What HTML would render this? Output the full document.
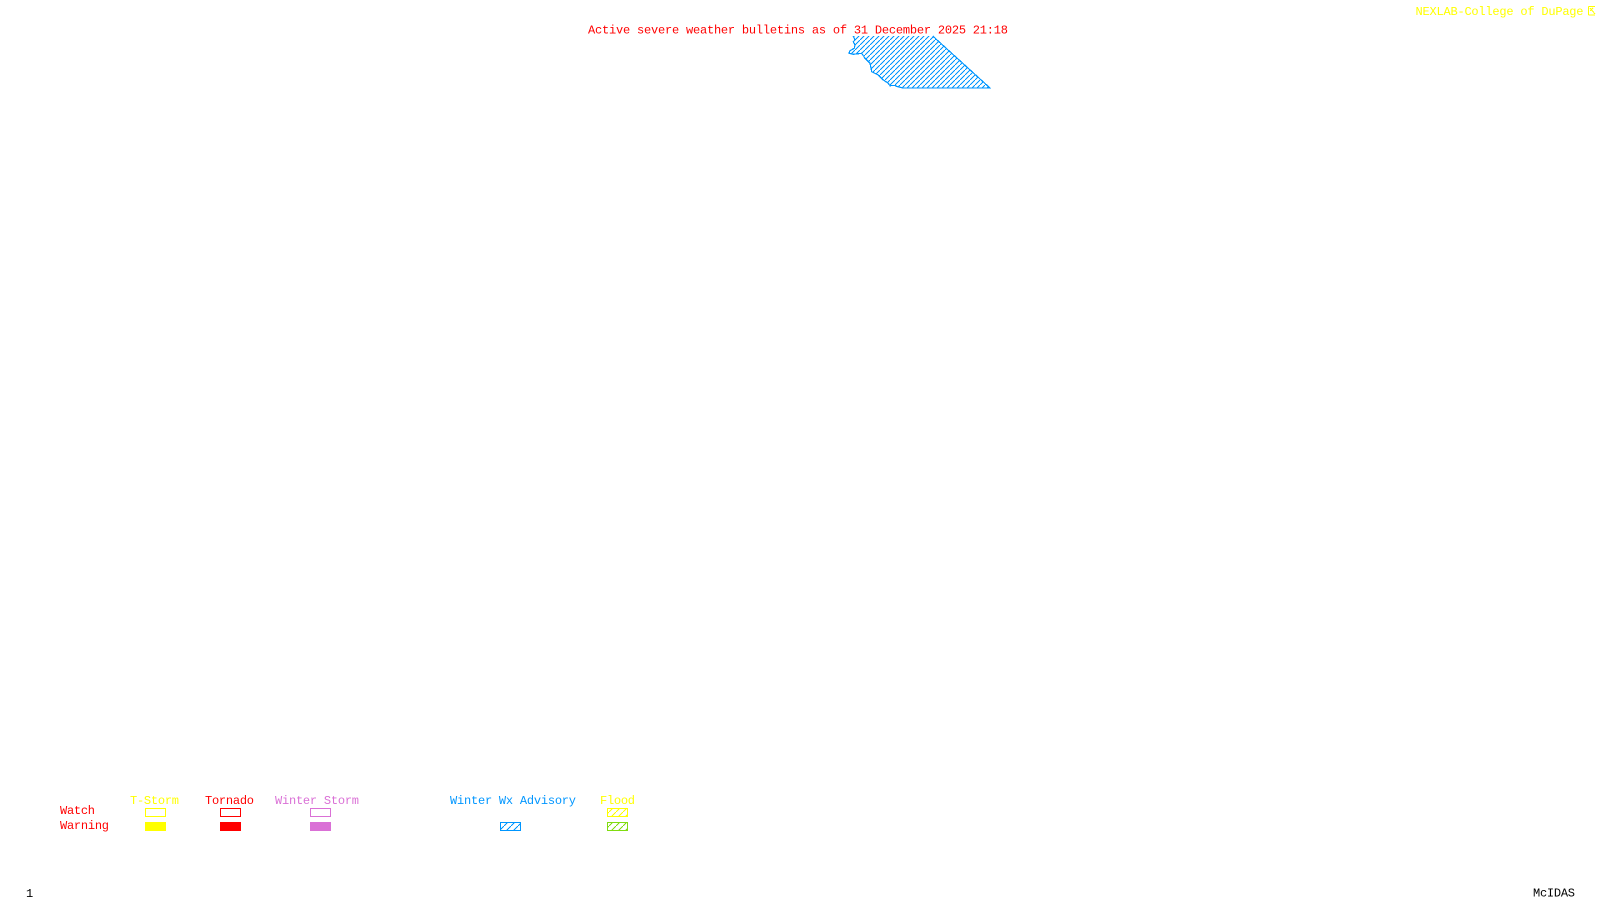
<!DOCTYPE html>
<html>
<head>
<meta charset="utf-8">
<style>
html,body{margin:0;padding:0;background:#fff;width:1600px;height:900px;overflow:hidden}
svg{display:block}
text{font-family:"Liberation Mono",monospace;font-size:12px}
</style>
</head>
<body>
<svg width="1600" height="900" viewBox="0 0 1600 900" xmlns="http://www.w3.org/2000/svg">
<defs>
<pattern id="hb" width="5" height="5" patternUnits="userSpaceOnUse"><path d="M0 5L5 0" stroke="#0096ff" stroke-width="1" shape-rendering="crispEdges"/></pattern>
<pattern id="hbl" width="7" height="7" patternUnits="userSpaceOnUse"><path d="M0 7L7 0" stroke="#0096ff" stroke-width="1" shape-rendering="crispEdges"/></pattern>
<pattern id="hy" width="7" height="7" patternUnits="userSpaceOnUse"><path d="M0 7L7 0" stroke="#ffff00" stroke-width="1" shape-rendering="crispEdges"/></pattern>
<pattern id="hg" width="7" height="7" patternUnits="userSpaceOnUse"><path d="M0 7L7 0" stroke="#80dc10" stroke-width="1" shape-rendering="crispEdges"/></pattern>
</defs>

<text x="588" y="33.5" fill="#ff0000" textLength="420" lengthAdjust="spacing">Active severe weather bulletins as of 31 December 2025 21:18</text>
<text x="1415.5" y="15" fill="#ffff00" textLength="168" lengthAdjust="spacing">NEXLAB-College of DuPage</text>
<g fill="none" stroke="#ffff00" stroke-width="1" shape-rendering="crispEdges"><path d="M1588.5 6.5H1595M1588.5 6.5V15M1588.5 15H1595M1590 8L1595 14M1590 11L1593 8"/></g>

<polygon points="853.3,36 932.7,36 990,88 903,88 897,86.5 895,85.5 890,85.7 888.3,83.3 883.3,80 878.3,75 871.7,71.7 870,63.3 865,58.3 861.7,53.3 853.3,54.3 849,53.3 850,50.7 854.3,48.3 855,45 853.3,41.7 855,40" fill="url(#hb)"/>
<path d="M932.7,36 L990,88 L903,88 L897,86.5 L895,85.5 L890,85.7 L888.3,83.3 L883.3,80 L878.3,75 L871.7,71.7 L870,63.3 L865,58.3 L861.7,53.3 L853.3,54.3 L849,53.3 L850,50.7 L854.3,48.3 L855,45 L853.3,41.7 L855,40 L853.3,36" fill="none" stroke="#0096ff" stroke-width="1.2" shape-rendering="crispEdges"/>

<text x="130" y="804" fill="#ffff00" textLength="49" lengthAdjust="spacing">T-Storm</text>
<text x="205" y="804" fill="#ff0000" textLength="49" lengthAdjust="spacing">Tornado</text>
<text x="275" y="804" fill="#da70d6" textLength="84" lengthAdjust="spacing">Winter Storm</text>
<text x="450" y="804" fill="#0096ff" textLength="126" lengthAdjust="spacing">Winter Wx Advisory</text>
<text x="600" y="804" fill="#ffff00" textLength="35" lengthAdjust="spacing">Flood</text>
<text x="60" y="814" fill="#ff0000" textLength="35" lengthAdjust="spacing">Watch</text>
<text x="60" y="829" fill="#ff0000" textLength="49" lengthAdjust="spacing">Warning</text>

<g shape-rendering="crispEdges" stroke-width="1">
<rect x="145.5" y="808.5" width="20" height="8" fill="none" stroke="#ffff00"/>
<rect x="145" y="822" width="21" height="9" fill="#ffff00"/>
<rect x="220.5" y="808.5" width="20" height="8" fill="none" stroke="#ff0000"/>
<rect x="220" y="822" width="21" height="9" fill="#ff0000"/>
<rect x="310.5" y="808.5" width="20" height="8" fill="none" stroke="#da70d6"/>
<rect x="310" y="822" width="21" height="9" fill="#da70d6"/>
<rect x="500.5" y="822.5" width="20" height="8" fill="url(#hbl)" stroke="#0096ff"/>
<rect x="607.5" y="808.5" width="20" height="8" fill="url(#hy)" stroke="#ffff00"/>
<rect x="607.5" y="822.5" width="20" height="8" fill="url(#hg)" stroke="#80dc10"/>
</g>

<text x="26" y="897" fill="#000000">1</text>
<text x="1533" y="896.5" fill="#000000" textLength="42" lengthAdjust="spacing">McIDAS</text>
</svg>
</body>
</html>
